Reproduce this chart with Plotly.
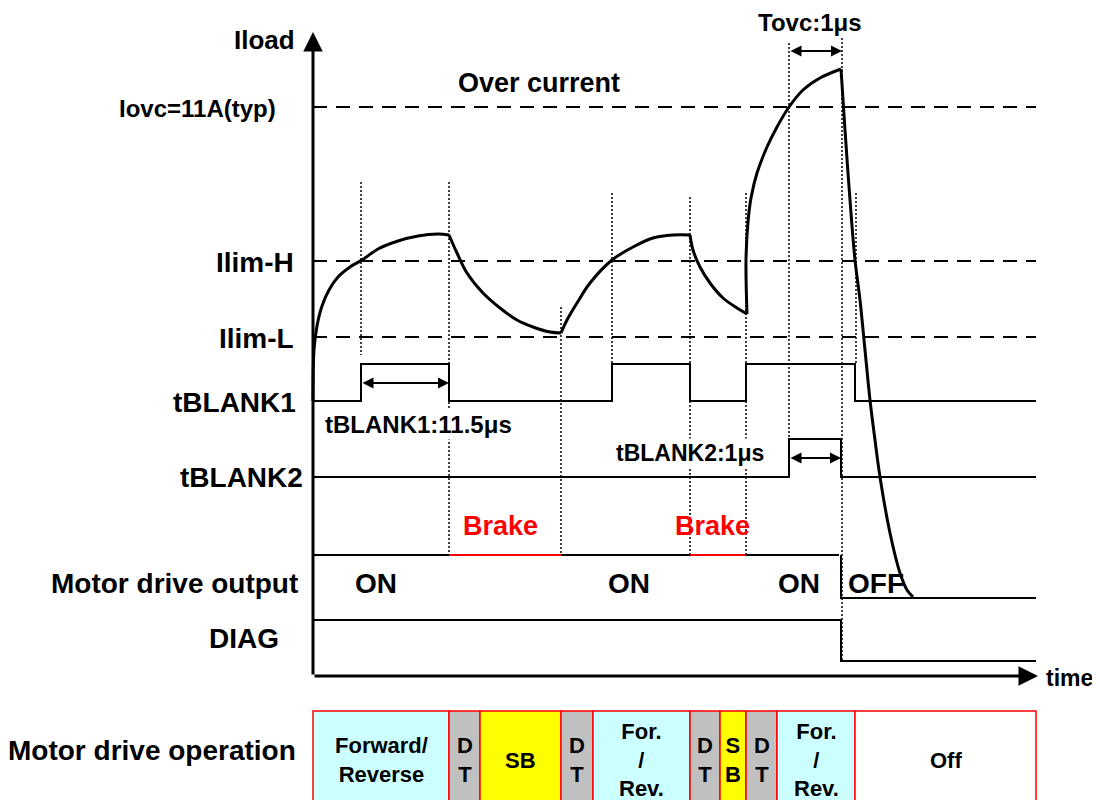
import plotly.graph_objects as go

# ---- levels (pixel rows of the sketch) ----
y_iovc, y_ilim_h, y_ilim_l = 107, 261, 337
blank1_lo, blank1_hi = 401, 364
blank2_lo, blank2_hi = 477, 439
out_hi, out_lo = 555, 598
diag_hi, diag_lo = 620, 661
x0, x_end = 313, 1036

# ---- event times ----
blank1_t = [313, 361, 449, 612, 690, 746, 855, 1036]
blank1_v = [blank1_lo, blank1_hi, blank1_lo, blank1_hi, blank1_lo, blank1_hi, blank1_lo, blank1_lo]
blank2_t = [313, 789, 841, 1036]
blank2_v = [blank2_lo, blank2_hi, blank2_lo, blank2_lo]
diag_t = [313, 841, 1036]
diag_v = [diag_hi, diag_lo, diag_lo]
out_on_t = [313, 449, 561, 690, 746, 839]
out_brake = [False, True, False, True, False]

# ---- load current ----
rise1_x = [313, 314, 317, 322, 329, 338, 350, 362, 378, 398, 418, 438, 449]
rise1_y = [401, 350, 326, 306, 290, 277, 267, 260, 249, 241, 236, 234, 235]
fall1_x = [449, 457, 467, 483, 500, 517, 533, 550, 561]
fall1_y = [235, 253, 273, 293, 308, 320, 327, 332, 333]
rise2_x = [561, 567, 577, 590, 612, 633, 653, 673, 690]
rise2_y = [333, 320, 303, 283, 260, 247, 238, 235, 235]
fall2_x = [690, 693, 700, 710, 723, 737, 747]
fall2_y = [235, 250, 267, 283, 298, 308, 314]
rise3_x = [747, 746, 748, 751, 757, 767, 777, 789, 803, 820, 841]
rise3_y = [314, 260, 222, 198, 173, 147, 127, 107, 90, 78, 69]
fall3_x = [841, 845, 850, 855, 860, 865, 870, 875, 880, 890, 900, 907, 913]
fall3_y = [69, 130, 200, 260, 300, 350, 400, 440, 477, 533, 573, 590, 597]

# ---- dotted guides: (time, top, bottom) ----
guide_t = [361, 449, 561, 612, 690, 746, 789, 842, 856]
guide_top = [182, 182, 307, 193, 197, 193, 43, 38, 193]
guide_bot = [355, 555, 555, 364, 555, 555, 439, 661, 364]

# ---- operation table ----
cell_edges = [313, 449, 480, 561, 593, 690, 720, 746, 777, 855, 1036]
cell_kind = ["run", "dt", "sb", "dt", "run", "dt", "sb", "dt", "run", "off"]
cell_text = ["Forward/<br>Reverse", "D<br>T", "SB", "D<br>T", "For.<br>/<br>Rev.",
             "D<br>T", "S<br>B", "D<br>T", "For.<br>/<br>Rev.", "Off"]
kind_fill = {"run": "#CCFFFF", "dt": "#C0C0C0", "sb": "#FFFF00", "off": "#FFFFFF"}

FONT = "Arial, Liberation Sans, sans-serif"

fig = go.Figure()


def line(xs, ys, width=2, color="black", dash=None, shape="linear"):
    fig.add_trace(go.Scatter(x=xs, y=ys, mode="lines", hoverinfo="skip",
                             line=dict(color=color, width=width, dash=dash, shape=shape)))


# table
for i, kind in enumerate(cell_kind):
    fig.add_shape(type="rect", x0=cell_edges[i], x1=cell_edges[i + 1], y0=711, y1=830,
                  fillcolor=kind_fill[kind], line=dict(color="red", width=1.5), layer="below")
    fig.add_annotation(x=(cell_edges[i] + cell_edges[i + 1]) / 2, y=760, text=cell_text[i],
                       showarrow=False, font=dict(family=FONT, size=22, color="black"))

# threshold dashes
for yy in [y_iovc, y_ilim_h, y_ilim_l]:
    line([x0, x_end], [yy, yy], width=2, dash="14px,9px")

# dotted guides
for t, a, b in zip(guide_t, guide_top, guide_bot):
    line([t, t], [a, b], width=1.5, dash="2px,2px")

# signals
line(blank1_t, blank1_v, shape="hv")
line(blank2_t, blank2_v, shape="hv")
line(diag_t, diag_v, shape="hv")
for i, br in enumerate(out_brake):
    line([out_on_t[i], out_on_t[i + 1]], [out_hi, out_hi], color="red" if br else "black")
line([841, 841, x_end], [out_hi, out_lo, out_lo])

# load current
for xs, ys in [(rise1_x, rise1_y), (fall1_x, fall1_y), (rise2_x, rise2_y),
               (fall2_x, fall2_y), (rise3_x, rise3_y), (fall3_x, fall3_y)]:
    line(xs, ys, width=3, shape="spline")

# axes with arrowheads
fig.add_annotation(x=313, y=32, ax=313, ay=676, xref="x", yref="y", axref="x", ayref="y",
                   showarrow=True, arrowhead=2, arrowwidth=3, arrowsize=1.3,
                   arrowcolor="black", text="")
fig.add_annotation(x=1038, y=676, ax=313, ay=676, xref="x", yref="y", axref="x", ayref="y",
                   showarrow=True, arrowhead=2, arrowwidth=3, arrowsize=1.3,
                   arrowcolor="black", text="")

# double arrows
for xa, xb, yy in [(361, 449, 383), (789, 841, 458), (789, 842, 51)]:
    fig.add_annotation(x=xb, y=yy, ax=xa, ay=yy, xref="x", yref="y", axref="x", ayref="y",
                       showarrow=True, arrowhead=2, arrowside="end+start", startarrowhead=2,
                       arrowwidth=2, arrowsize=1.1, startarrowsize=1.1,
                       arrowcolor="black", text="")

# left labels (right-aligned)
labels = [("Iload", 297, 40, 26), ("Iovc=11A(typ)", 278, 108, 24), ("Ilim-H", 296, 262, 28),
          ("Ilim-L", 296, 338, 28), ("tBLANK1", 298, 402, 28), ("tBLANK2", 305, 477, 28),
          ("Motor drive output", 300, 583, 28), ("DIAG", 281, 638, 28),
          ("Motor drive operation", 298, 750, 28)]
for txt, xr, yy, sz in labels:
    fig.add_annotation(x=xr, y=yy, text=txt, showarrow=False, xanchor="right",
                       font=dict(family=FONT, size=sz, color="black"))

# in-plot texts
notes = [("Over current", 539, 83, 27, "black", None), ("Tovc:1μs", 810, 22, 24, "black", None),
         ("tBLANK1:11.5μs", 418, 424, 24, "black", "white"),
         ("tBLANK2:1μs", 690, 453, 23, "black", "white"),
         ("Brake", 500, 526, 27, "red", None), ("Brake", 712, 526, 27, "red", None),
         ("ON", 376, 583, 28, "black", None), ("ON", 629, 583, 28, "black", None),
         ("ON", 799, 583, 28, "black", None), ("OFF", 876, 583, 28, "black", None),
         ("time", 1069, 678, 23, "black", None)]
for txt, xx, yy, sz, col, bg in notes:
    fig.add_annotation(x=xx, y=yy, text=txt, showarrow=False, bgcolor=bg,
                       font=dict(family=FONT, size=sz, color=col))

# the page body adds an 8px offset, so the ranges are shifted to keep sketch pixels aligned
fig.update_layout(
    width=1100, height=800, margin=dict(l=0, r=0, t=0, b=0),
    plot_bgcolor="white", paper_bgcolor="white", showlegend=False,
    xaxis=dict(range=[8, 1108], visible=False, fixedrange=True),
    yaxis=dict(range=[808, 8], visible=False, fixedrange=True),
)
fig.update_annotations(font_family=FONT, font_weight="bold")
fig.write_html("out.html")
